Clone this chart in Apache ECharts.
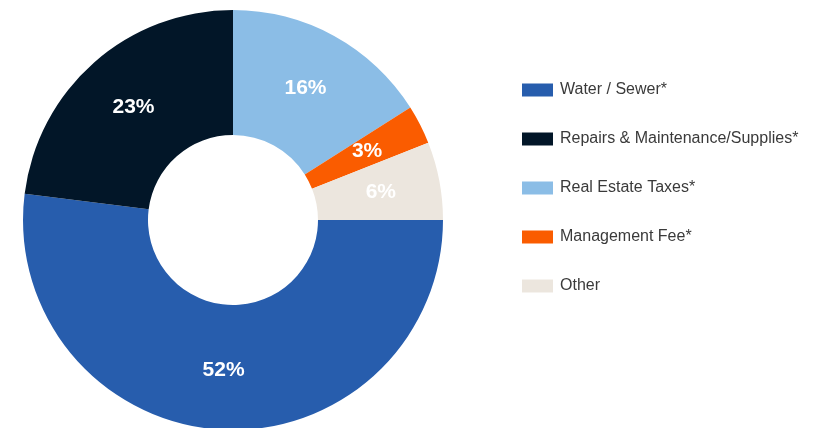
<!DOCTYPE html>
<html>
<head>
<meta charset="utf-8">
<style>
  html, body { margin: 0; padding: 0; background: #ffffff; }
  #chart { width: 821px; height: 428px; }
</style>
<script src="https://cdn.jsdelivr.net/npm/echarts@6/dist/echarts.min.js"></script>
</head>
<body>
<div id="chart"></div>
<script>
// Expense categories, in the order the slices run clockwise from 12 o'clock
const categories = ['Real Estate Taxes*', 'Management Fee*', 'Other', 'Water / Sewer*', 'Repairs & Maintenance/Supplies*'];
const shares = [16, 3, 6, 52, 23];
const sliceColors = ['#8bbde6', '#fa5c00', '#ece6de', '#275dad', '#021628'];

// Legend lists the categories in a different order
const legendOrder = ['Water / Sewer*', 'Repairs & Maintenance/Supplies*', 'Real Estate Taxes*', 'Management Fee*', 'Other'];

const chart = echarts.init(document.getElementById('chart'), null, { renderer: 'canvas' });

chart.setOption({
  animation: false,
  color: sliceColors,
  legend: {
    orient: 'vertical',
    left: 517,
    top: 77,
    itemWidth: 31,
    itemHeight: 13,
    itemGap: 33,
    icon: 'rect',
    data: legendOrder,
    textStyle: {
      fontFamily: 'Liberation Sans, Arial, sans-serif',
      fontSize: 16,
      lineHeight: 16,
      color: '#3a3a3a',
      padding: [0, 0, 0, 2]
    }
  },
  series: [{
    type: 'pie',
    center: [233, 220],
    radius: [85, 210],
    startAngle: 90,
    clockwise: true,
    avoidLabelOverlap: false,
    label: {
      show: true,
      position: 'inside',
      formatter: '{c}%',
      color: '#ffffff',
      fontFamily: 'Liberation Sans, Arial, sans-serif',
      fontWeight: 'bold',
      fontSize: 21
    },
    labelLine: { show: false },
    itemStyle: { borderWidth: 0 },
    emphasis: { disabled: true },
    data: categories.map((name, i) => ({ name, value: shares[i] }))
  }]
});
</script>
</body>
</html>
